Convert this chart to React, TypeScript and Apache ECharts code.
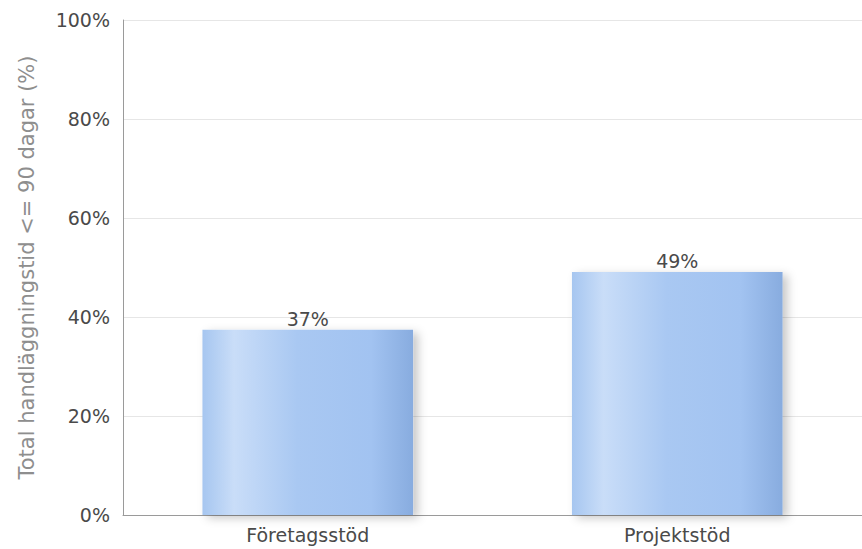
import React, { useEffect, useRef } from "react";
import * as echarts from "echarts";

const categories = ["Företagsstöd", "Projektstöd"];
const values = [37.4, 49.1];
const yTicks = [0, 20, 40, 60, 80, 100];
const yAxisTitle = "Total handläggningstid <= 90 dagar (%)";

export default function App() {
  const ref = useRef<HTMLDivElement>(null);
  useEffect(() => {
    if (!ref.current) return;
    const chart = echarts.init(ref.current, null, { renderer: "svg" });
    const barGradient = new echarts.graphic.LinearGradient(0, 0, 1, 0, [
      { offset: 0, color: "#a6c6f0" },
      { offset: 0.15, color: "#c9ddf8" },
      { offset: 0.45, color: "#a9c8f2" },
      { offset: 0.8, color: "#a2c3f1" },
      { offset: 1, color: "#88acdf" },
    ]);
    chart.setOption({
      animation: false,
      backgroundColor: "#ffffff",
      grid: { left: 123, top: 20, bottom: 34, right: -9, containLabel: false },
      xAxis: {
        type: "category",
        data: categories,
        axisLine: { lineStyle: { color: "#9a9a9a", width: 1 } },
        axisTick: { show: false },
        axisLabel: {
          color: "#4a4a4a",
          fontFamily: "DejaVu Sans",
          fontSize: 19,
          margin: 10,
        },
      },
      yAxis: {
        type: "value",
        min: yTicks[0],
        max: yTicks[yTicks.length - 1],
        interval: 20,
        name: yAxisTitle,
        nameLocation: "middle",
        nameGap: 86,
        nameTextStyle: {
          color: "#8e8e8e",
          fontFamily: "DejaVu Sans",
          fontSize: 21,
        },
        axisLine: { show: true, lineStyle: { color: "#9a9a9a", width: 1 } },
        axisTick: { show: false },
        splitLine: { lineStyle: { color: "#e6e6e6" } },
        axisLabel: {
          color: "#4a4a4a",
          fontFamily: "DejaVu Sans",
          fontSize: 19,
          margin: 13,
          formatter: (v: number) => v + "%",
        },
      },
      series: [
        {
          type: "bar",
          data: values,
          barWidth: "57%",
          itemStyle: {
            color: barGradient,
            shadowColor: "rgba(0,0,0,0.22)",
            shadowBlur: 10,
            shadowOffsetX: 5,
            shadowOffsetY: 3,
          },
          label: {
            show: true,
            position: "top",
            distance: 1,
            color: "#4a4a4a",
            fontFamily: "DejaVu Sans",
            fontSize: 19,
            formatter: (p: any) => Math.round(p.value) + "%",
          },
        },
      ],
    });
    return () => chart.dispose();
  }, []);
  return (
    <div
      ref={ref}
      style={{ position: "fixed", left: 0, top: 0, width: 862, height: 549 }}
    />
  );
}
